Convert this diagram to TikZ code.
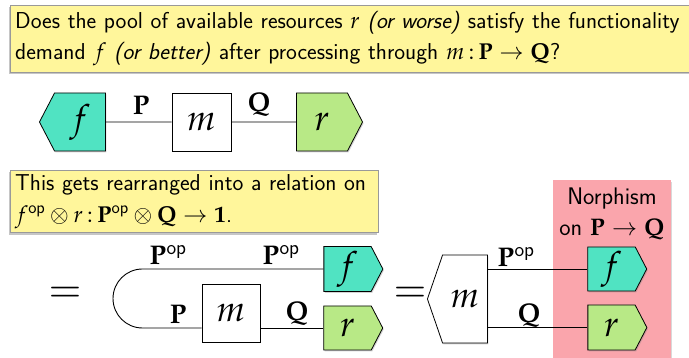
\RequirePackage{fix-cm}
\documentclass[tikz,border=0pt]{standalone}
\usepackage{mathpazo}
\usetikzlibrary{shapes.symbols,shadows,positioning,calc}
\definecolor{notebg}{RGB}{255,246,155}
\definecolor{funteal}{RGB}{80,227,194}
\definecolor{resgreen}{RGB}{184,233,134}
\definecolor{norpink}{RGB}{250,165,172}
\tikzset{
  note/.style={rectangle, draw=black!40, fill=notebg, anchor=north west, align=left,
               inner xsep=5pt, inner ysep=6pt, font=\sffamily\fontsize{23}{31.5}\selectfont,
               drop shadow={opacity=0.45, shadow xshift=-1pt, shadow yshift=-2pt}},
  mbox/.style={rectangle, draw, line width=0.8pt, fill=white, inner sep=0pt,
               minimum width=59pt, minimum height=58pt, font=\fontsize{36}{36}\selectfont,
               drop shadow={opacity=0.35, shadow xshift=1pt, shadow yshift=-1.5pt}},
  sig/.style={signal, draw, line width=0.8pt, inner sep=0pt, signal pointer angle=125,
              font=\fontsize{36}{36}\selectfont,
              drop shadow={opacity=0.35, shadow xshift=1pt, shadow yshift=-1.5pt}},
  fun/.style={sig, fill=funteal},
  res/.style={sig, fill=resgreen},
  wire/.style={line width=0.9pt},
  lab/.style={font=\fontsize{27}{27}\selectfont, inner sep=1pt},
  eq/.style={font=\fontsize{40}{40}\selectfont},
}
\begin{document}
\begin{tikzpicture}[x=1pt, y=-1pt]
\useasboundingbox (0,0) rectangle (689,358);
% question
\node[note, text width=700pt] (ask) at (10,5)
  {Does the pool of available resources $r$ \textit{(or worse)} satisfy the functionality\\
   demand $f$ \textit{(or better)} after processing through $m\,{:}\,\mathbf{P}\to\mathbf{Q}$?};
% top diagram
\node[fun, signal to=west, minimum width=66pt, minimum height=58pt] (f1) at (80,122) {$f$};
\node[mbox] (m1) at (201.5,122) {$m$};
\node[res, signal to=east, minimum width=66pt, minimum height=58pt] (r1) at (322,122) {$r$};
\draw[wire] (f1) -- (m1) -- (r1);
\node[lab] (p1) at (141,105) {$\mathbf{P}$};
\node[lab] (q1) at (259,105) {$\mathbf{Q}$};
% rearranged
\node[note, text width=358pt, inner ysep=4pt, font=\sffamily\fontsize{23}{32}\selectfont] (rearr) at (10,170)
  {This gets rearranged into a relation on\\
   $f^{\mathsf{op}}\otimes r\,{:}\,\mathbf{P}^{\mathsf{op}}\otimes\mathbf{Q}\to\mathbf{1}$.};
\node[eq] (eq1) at (65,295) {$=$};
\node[fun, signal to=east, minimum width=59pt, minimum height=45pt] (f2) at (347.5,269) {$f$};
\node[res, signal to=east, minimum width=59pt, minimum height=44pt] (r2) at (347.5,328) {$r$};
\node[mbox, minimum width=58pt] (m2) at (231,313) {$m$};
\coordinate (lt) at (142.5,269);
\coordinate (lb) at (142.5,328);
\draw[wire] (f2.west) -- (lt) arc[start angle=90, end angle=270, radius=29.5pt] -- (m2.west |- lb);
\draw[wire] (m2.east |- r2) -- (r2.west);
\node[lab] (pa) at (168,255) {$\mathbf{P}^{\mathsf{op}}$};
\node[lab] (pb) at (281,255) {$\mathbf{P}^{\mathsf{op}}$};
\node[lab] (p2) at (178,314) {$\mathbf{P}$};
\node[lab] (q2) at (297,314) {$\mathbf{Q}$};
% norphism
\node[eq] (eq2) at (410,295) {$=$};
\node[rectangle, fill=norpink, anchor=north west, minimum width=118pt, minimum height=190pt,
      drop shadow={opacity=0.3, shadow xshift=1pt, shadow yshift=-1.5pt}] (norph) at (553,180) {};
\node[font=\sffamily\fontsize{24}{31}\selectfont, align=center] (ntxt) at (612,214)
  {Norphism\\on $\mathbf{P}\to\mathbf{Q}$};
\node[sig, fill=white, signal to=west, signal pointer angle=142, minimum width=60pt, minimum height=88pt] (m3) at (465,299) {$m$};
\node[fun, signal to=east, minimum width=59pt, minimum height=44pt] (f3) at (611.5,269) {$f$};
\node[res, signal to=east, minimum width=59pt, minimum height=45pt] (r3) at (611.5,327.5) {$r$};
\draw[wire] (m3.east |- f3) -- (f3.west);
\draw[wire] (m3.east |- r3) -- (r3.west);
\node[lab] (p3) at (516,257) {$\mathbf{P}^{\mathsf{op}}$};
\node[lab] (q3) at (529,316) {$\mathbf{Q}$};
\end{tikzpicture}
\end{document}
